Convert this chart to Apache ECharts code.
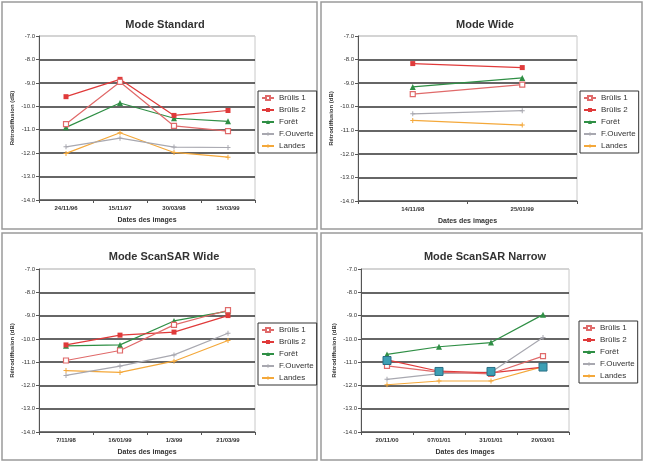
<!DOCTYPE html>
<html><head><meta charset="utf-8">
<script src="https://cdn.jsdelivr.net/npm/echarts@6/dist/echarts.min.js"></script>
<style>html,body{margin:0;padding:0;background:#fff}#c{width:645px;height:462px}</style>
</head><body><div id="c"></div>
<script>
const seriesNames = ['Brûlis 1','Brûlis 2','Forêt','F.Ouverte','Landes'];
const yTicks = ['-14.0','-13.0','-12.0','-11.0','-10.0','-9.0','-8.0','-7.0'];

const stdTitle = 'Mode Standard';
const stdCats = ['24/11/96','15/11/97','30/03/98','15/03/99'];
const stdBrulis1 = [-10.76,-8.96,-10.84,-11.06];
const stdBrulis2 = [-9.59,-8.85,-10.39,-10.18];
const stdForet = [-10.90,-9.86,-10.51,-10.64];
const stdFOuverte = [-11.73,-11.36,-11.74,-11.76];
const stdLandes = [-12.01,-11.13,-11.97,-12.17];

const wideTitle = 'Mode Wide';
const wideCats = ['14/11/98','25/01/99'];
const wideBrulis1 = [-9.47,-9.06];
const wideBrulis2 = [-8.17,-8.34];
const wideForet = [-9.16,-8.78];
const wideFOuverte = [-10.30,-10.17];
const wideLandes = [-10.58,-10.78];

const sswTitle = 'Mode ScanSAR Wide';
const sswCats = ['7/11/98','16/01/99','1/3/99','21/03/99'];
const sswBrulis1 = [-10.93,-10.50,-9.40,-8.77];
const sswBrulis2 = [-10.26,-9.84,-9.71,-9.00];
const sswForet = [-10.30,-10.26,-9.23,-8.81];
const sswFOuverte = [-11.57,-11.17,-10.69,-9.76];
const sswLandes = [-11.36,-11.44,-10.96,-10.07];

const ssnTitle = 'Mode ScanSAR Narrow';
const ssnCats = ['20/11/00','07/01/01','31/01/01','20/03/01'];
const ssnBrulis1 = [-11.16,-11.43,-11.50,-10.74];
const ssnBrulis2 = [-10.90,-11.39,-11.46,-11.21];
const ssnForet = [-10.67,-10.34,-10.16,-8.96];
const ssnFOuverte = [-11.74,-11.49,-11.43,-9.94];
const ssnLandes = [-11.97,-11.81,-11.81,-11.19];
const ssnHighlight = [-10.93,-11.40,-11.40,-11.21];

const panels = [
  {title: stdTitle, cats: stdCats, data: [stdBrulis1,stdBrulis2,stdForet,stdFOuverte,stdLandes],
   box:[2,2,315,227], grid:{left:39,top:36,width:216,height:164}, tx:160, ty:14, lg:[258,91]},
  {title: wideTitle, cats: wideCats, data: [wideBrulis1,wideBrulis2,wideForet,wideFOuverte,wideLandes],
   box:[321,2,321,227], grid:{left:358,top:36,width:219,height:165}, tx:480, ty:14, lg:[580,91]},
  {title: sswTitle, cats: sswCats, data: [sswBrulis1,sswBrulis2,sswForet,sswFOuverte,sswLandes],
   box:[2,233,315,227], grid:{left:39,top:269,width:216,height:163}, tx:159, ty:246, lg:[258,323]},
  {title: ssnTitle, cats: ssnCats, data: [ssnBrulis1,ssnBrulis2,ssnForet,ssnFOuverte,ssnLandes],
   box:[321,233,321,227], grid:{left:361,top:269,width:208,height:163}, tx:480, ty:246, lg:[579,321], extra: ssnHighlight}
];

const plusPath = 'path://M4,0h2v4h4v2h-4v4h-2v-4h-4v-2h4z';
const styles = [
  {color:'#e06a6a', symbol:'rect', size:5, hollow:true},
  {color:'#e03a3a', symbol:'rect', size:5},
  {color:'#2f8f45', symbol:'triangle', size:6},
  {color:'#a8a8b0', symbol:plusPath, size:5},
  {color:'#f4a83a', symbol:plusPath, size:5}
];

const option = {
  animation:false,
  backgroundColor:'#fff',
  title:[], legend:[], grid:[], xAxis:[], yAxis:[], series:[], graphic:[]
};

panels.forEach((p,i)=>{
  option.graphic.push({type:'rect', shape:{x:p.box[0],y:p.box[1],width:p.box[2],height:p.box[3]},
    style:{fill:'none', stroke:'#9a9a9a', lineWidth:1.5}, silent:true});
  option.title.push({text:p.title, left:p.tx, top:p.ty, textAlign:'center',
    textStyle:{fontFamily:'Liberation Sans, Arial', fontSize:11, fontWeight:'bold', color:'#333'}});
  option.grid.push(Object.assign({show:true, borderColor:'#c8c8c8', borderWidth:1, backgroundColor:'#fff'}, p.grid));
  option.xAxis.push({type:'category', gridIndex:i, data:p.cats, boundaryGap:true,
    axisLine:{lineStyle:{color:'#555', width:1}},
    axisTick:{show:true, length:3, lineStyle:{color:'#555'}},
    axisLabel:{fontSize:6, color:'#333', margin:5, fontFamily:'Liberation Sans, Arial', fontWeight:'bold'},
    name:'Dates des images', nameLocation:'middle', nameGap:17,
    nameTextStyle:{fontSize:7, fontWeight:'bold', color:'#333', fontFamily:'Liberation Sans, Arial'},
    splitLine:{show:false}});
  option.yAxis.push({type:'value', gridIndex:i, min:-14, max:-7, interval:1,
    axisLine:{show:true, lineStyle:{color:'#555', width:1}},
    axisTick:{show:true, length:3, lineStyle:{color:'#555'}},
    axisLabel:{fontSize:6, color:'#333', margin:4, fontFamily:'Liberation Sans, Arial',
      formatter:(v)=>{const k=Math.round(v+14); return yTicks[k];}},
    name:'Rétrodiffusion (dB)', nameLocation:'middle', nameGap:24, nameRotate:90,
    nameTextStyle:{fontSize:6, fontWeight:'bold', color:'#333', fontFamily:'Liberation Sans, Arial'},
    splitLine:{show:true, lineStyle:{color:['#555','#333','#333','#333','#333','#333','#333','#cfcfcf'], width:1.5}}});
  option.legend.push({orient:'vertical', left:p.lg[0], top:p.lg[1], data:seriesNames,
    borderColor:'#333', borderWidth:1, padding:[3,3,3,3], itemGap:4, itemWidth:12, itemHeight:5,
    textStyle:{fontSize:8, color:'#333', fontFamily:'Liberation Sans, Arial'}, selectedMode:false});
  p.data.forEach((d,j)=>{
    const s = styles[j];
    option.series.push({type:'line', name:seriesNames[j], xAxisIndex:i, yAxisIndex:i, data:d,
      symbol:s.symbol, symbolSize:s.size, showSymbol:true,
      lineStyle:{color:s.color, width:1.2},
      itemStyle: s.hollow ? {color:'#fff', borderColor:s.color, borderWidth:1.2} : {color:s.color},
      z: 3 + (4-j)});
  });
  if (p.extra) {
    option.series.push({type:'line', name:'_highlight', xAxisIndex:i, yAxisIndex:i, data:p.extra,
      symbol:'rect', symbolSize:8, lineStyle:{opacity:0, width:0},
      itemStyle:{color:'#3d9fb4', borderColor:'#2a6f86', borderWidth:1}, z:10});
  }
});

const chart = echarts.init(document.getElementById('c'), null, {renderer:'canvas'});
chart.setOption(option);
</script>
</body></html>
